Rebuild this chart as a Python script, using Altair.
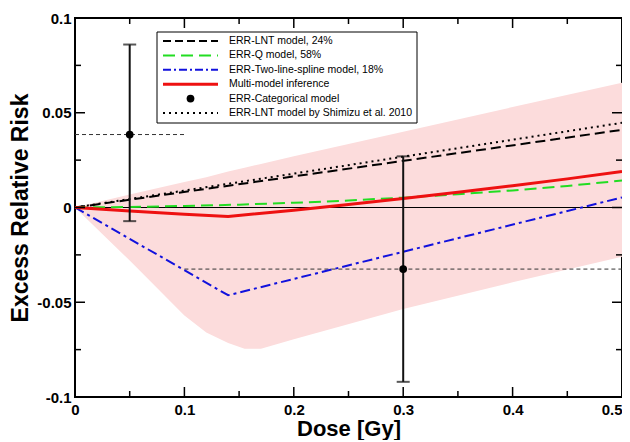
import altair as alt
import pandas as pd

# ---------------- data ----------------
lnt_dose = [0.0, 0.5]
lnt_err = [0.0, 0.041]

shimizu_dose = [0.0, 0.5]
shimizu_err = [0.0, 0.0447]

q_dose = [0.0, 0.05, 0.1, 0.15, 0.2, 0.25, 0.3, 0.35, 0.4, 0.45, 0.5]
q_err = [0.0, 0.0003, 0.0008, 0.0015, 0.0025, 0.0037, 0.0052, 0.007, 0.009, 0.0114, 0.0142]

spline_dose = [0.0, 0.14, 0.5]
spline_err = [0.0, -0.0463, 0.0053]

mmi_dose = [0.0, 0.05, 0.1, 0.14, 0.2, 0.25, 0.3, 0.35, 0.4, 0.45, 0.5]
mmi_err = [0.0, -0.0018, -0.0035, -0.0048, -0.0014, 0.0016, 0.0048, 0.008, 0.0115, 0.0151, 0.019]

band_dose = [0.0, 0.05, 0.1, 0.12, 0.14, 0.155, 0.17, 0.2, 0.3, 0.4, 0.5]
band_upper = [0.0, 0.0068, 0.0135, 0.016, 0.019, 0.021, 0.023, 0.027, 0.040, 0.053, 0.0658]
band_lower = [0.0, -0.028, -0.057, -0.066, -0.0715, -0.0745, -0.0745, -0.0695, -0.0535, -0.0395, -0.026]

cat_dose = [0.05, 0.3]
cat_err = [0.0385, -0.0325]
cat_lo = [-0.0072, -0.092]
cat_hi = [0.086, 0.027]
cat_bin_start = [0.0, 0.1]
cat_bin_end = [0.1, 0.5]

x_major = [0.0, 0.1, 0.2, 0.3, 0.4, 0.5]
x_minor = [0.05, 0.15, 0.25, 0.35, 0.45]
y_major = [-0.1, -0.05, 0.0, 0.05, 0.1]
y_minor = [-0.075, -0.025, 0.025, 0.075]

legend_labels = [
    "ERR-LNT model, 24%",
    "ERR-Q model, 58%",
    "ERR-Two-line-spline model, 18%",
    "Multi-model inference",
    "ERR-Categorical model",
    "ERR-LNT model by Shimizu et al. 2010",
]

# ---------------- layout / style ----------------
W, H = 547, 379
FONT = "Liberation Sans"

xs = alt.Scale(domain=[0, 0.5], nice=False, zero=False)
ys = alt.Scale(domain=[-0.1, 0.1], nice=False, zero=False)

x_axis = alt.Axis(values=x_major, labelExpr="'' + datum.value", labelFont=FONT,
                  labelFontSize=15, labelFontWeight="bold", labelColor="black",
                  labelAlign={"condition": {"test": "datum.value >= 0.5", "value": "right"},
                              "value": "center"},
                  ticks=False, domain=False, grid=False, labelFlush=False,
                  labelPadding=5, title="Dose [Gy]", titleFont=FONT, titleFontSize=22,
                  titleFontWeight="bold", titleColor="black", titlePadding=1)
y_axis = alt.Axis(values=y_major, labelExpr="'' + datum.value", labelFont=FONT,
                  labelFontSize=15, labelFontWeight="bold", labelColor="black",
                  ticks=False, domain=False, grid=False, labelPadding=4,
                  title="Excess Relative Risk", titleFont=FONT, titleFontSize=23,
                  titleFontWeight="bold", titleColor="black", titlePadding=4)


def X(f):
    return alt.X(f, scale=xs, axis=x_axis)


def Y(f):
    return alt.Y(f, scale=ys, axis=y_axis)


def line_layer(d, e, color, width, dash=None):
    df = pd.DataFrame({"dose": d, "err": e})
    kw = dict(color=color, strokeWidth=width)
    if dash:
        kw["strokeDash"] = dash
    return alt.Chart(df).mark_line(**kw).encode(x=X("dose:Q"), y=Y("err:Q"))


band_df = pd.DataFrame({"dose": band_dose, "up": band_upper, "lo": band_lower})
band = alt.Chart(band_df).mark_area(color="#fcdcdc", opacity=1).encode(
    x=X("dose:Q"), y=Y("lo:Q"), y2="up:Q")

zero_line = alt.Chart(pd.DataFrame({"y": [0.0]})).mark_rule(color="black", strokeWidth=1).encode(
    y=Y("y:Q"))

cat_df = pd.DataFrame({"dose": cat_dose, "err": cat_err, "lo": cat_lo, "hi": cat_hi,
                       "b0": cat_bin_start, "b1": cat_bin_end})
bins = alt.Chart(cat_df).mark_rule(color="#333333", strokeWidth=1, strokeDash=[4, 3]).encode(
    x=X("b0:Q"), x2="b1:Q", y=Y("err:Q"))
ebar = alt.Chart(cat_df).mark_rule(color="#111111", strokeWidth=2).encode(
    x=X("dose:Q"), y=Y("lo:Q"), y2="hi:Q")
cap_lo = alt.Chart(cat_df).mark_tick(color="#111111", thickness=2, size=13, orient="horizontal").encode(
    x=X("dose:Q"), y=Y("lo:Q"))
cap_hi = alt.Chart(cat_df).mark_tick(color="#111111", thickness=2, size=13, orient="horizontal").encode(
    x=X("dose:Q"), y=Y("hi:Q"))
pts = alt.Chart(cat_df).mark_point(filled=True, color="black", size=60, opacity=1).encode(
    x=X("dose:Q"), y=Y("err:Q"))

lnt = line_layer(lnt_dose, lnt_err, "black", 2, [10, 5])
shim = line_layer(shimizu_dose, shimizu_err, "black", 2, [2, 4])
qline = line_layer(q_dose, q_err, "#22dd22", 2, [12, 6])
spl = line_layer(spline_dose, spline_err, "#1111dd", 2, [10, 4, 3, 4])
mmi = line_layer(mmi_dose, mmi_err, "#ee1111", 3)

# inward ticks on all four sides
tick_layers = []
for vals, ln in ((x_major, 10), (x_minor, 6)):
    tdf = pd.DataFrame({"v": vals})
    base = alt.Chart(tdf).mark_rule(color="black", strokeWidth=1.5)
    tick_layers.append(base.encode(x=X("v:Q"), y=alt.value(H), y2=alt.value(H - ln)))
    tick_layers.append(base.encode(x=X("v:Q"), y=alt.value(0), y2=alt.value(ln)))
for vals, ln in ((y_major, 10), (y_minor, 6)):
    tdf = pd.DataFrame({"v": vals})
    base = alt.Chart(tdf).mark_rule(color="black", strokeWidth=1.5)
    tick_layers.append(base.encode(y=Y("v:Q"), x=alt.value(0), x2=alt.value(ln)))
    tick_layers.append(base.encode(y=Y("v:Q"), x=alt.value(W), x2=alt.value(W - ln)))

# legend (drawn by hand)
one = pd.DataFrame({"k": [0]})
LX0, LX1, LY0, LY1 = 82, 342, 14, 105
SX0, SX1, TX = 88, 143, 154
rows = [23 + i * 14.4 for i in range(6)]
leg = [alt.Chart(one).mark_rect(fill="white", stroke="black", strokeWidth=1).encode(
    x=alt.value(LX0), x2=alt.value(LX1), y=alt.value(LY0), y2=alt.value(LY1))]
styles = [("black", 2, [8, 4]), ("#22dd22", 2, [12, 6]), ("#1111dd", 2, [8, 3, 2, 3]),
          ("#ee1111", 3, None), None, ("black", 2, [2, 4])]
for r, st in zip(rows, styles):
    if st is None:
        leg.append(alt.Chart(one).mark_point(filled=True, color="black", size=60, opacity=1).encode(
            x=alt.value((SX0 + SX1) / 2), y=alt.value(r)))
    else:
        c, w, d = st
        kw = dict(color=c, strokeWidth=w)
        if d:
            kw["strokeDash"] = d
        leg.append(alt.Chart(one).mark_rule(**kw).encode(
            x=alt.value(SX0), x2=alt.value(SX1), y=alt.value(r)))
for r, lab in zip(rows, legend_labels):
    ldf = pd.DataFrame({"t": [lab]})
    leg.append(alt.Chart(ldf).mark_text(align="left", baseline="middle", font=FONT,
                                        fontSize=10.5, color="black").encode(
        text="t:N", x=alt.value(TX), y=alt.value(r)))

chart = alt.layer(band, zero_line, bins, lnt, shim, qline, spl, mmi, ebar, cap_lo, cap_hi, pts,
                  *tick_layers, *leg).properties(
    width=W, height=H,
    padding={"left": 67, "top": 10, "right": 0, "bottom": 43},
    autosize=alt.AutoSizeParams(type="none"),
    background="white",
).configure_view(stroke="black", strokeWidth=2)

chart.save("out.html", embed_options={"renderer": "svg", "actions": False})
